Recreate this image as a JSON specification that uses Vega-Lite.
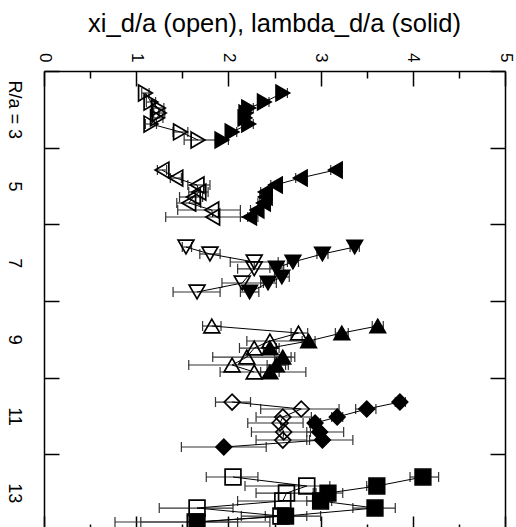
{
  "$schema": "https://vega.github.io/schema/vega-lite/v6.json",
  "width": 461,
  "height": 456,
  "autosize": "none",
  "padding": {"left": 44, "top": 71, "right": 11, "bottom": 0},
  "title": {"text": "xi_d/a (open), lambda_d/a (solid)", "font": "Liberation Sans", "fontSize": 25.5, "fontWeight": "normal", "color": "black", "anchor": "middle", "offset": 15},
  "config": {
    "view": {"stroke": null},
    "axis": {"grid": false, "domainColor": "black", "tickColor": "black", "labelColor": "black", "labelFont": "Liberation Sans", "domainWidth": 1.5, "tickWidth": 1.5, "title": null}
  },
  "data": {"values": [
    {"g":3,"t":"o","R":2.574,"x":1.10,"lo":1.06,"hi":1.14},
    {"g":3,"t":"o","R":2.809,"x":1.16,"lo":1.11,"hi":1.21},
    {"g":3,"t":"o","R":2.965,"x":1.24,"lo":1.18,"hi":1.30},
    {"g":3,"t":"o","R":3.096,"x":1.25,"lo":1.19,"hi":1.31},
    {"g":3,"t":"o","R":3.226,"x":1.23,"lo":1.17,"hi":1.29},
    {"g":3,"t":"o","R":3.383,"x":1.16,"lo":1.10,"hi":1.22},
    {"g":3,"t":"o","R":3.591,"x":1.48,"lo":1.40,"hi":1.56},
    {"g":3,"t":"o","R":3.800,"x":1.67,"lo":1.52,"hi":1.86},
    {"g":3,"t":"s","R":2.574,"x":2.59,"lo":2.54,"hi":2.64},
    {"g":3,"t":"s","R":2.809,"x":2.39,"lo":2.34,"hi":2.44},
    {"g":3,"t":"s","R":2.965,"x":2.22,"lo":2.17,"hi":2.27},
    {"g":3,"t":"s","R":3.096,"x":2.19,"lo":2.14,"hi":2.24},
    {"g":3,"t":"s","R":3.226,"x":2.18,"lo":2.13,"hi":2.23},
    {"g":3,"t":"s","R":3.383,"x":2.22,"lo":2.17,"hi":2.27},
    {"g":3,"t":"s","R":3.591,"x":2.04,"lo":1.99,"hi":2.09},
    {"g":3,"t":"s","R":3.800,"x":1.93,"lo":1.88,"hi":2.00},
    {"g":5,"t":"o","R":4.583,"x":1.28,"lo":1.23,"hi":1.33},
    {"g":5,"t":"o","R":4.792,"x":1.43,"lo":1.37,"hi":1.49},
    {"g":5,"t":"o","R":4.974,"x":1.66,"lo":1.56,"hi":1.80},
    {"g":5,"t":"o","R":5.157,"x":1.68,"lo":1.57,"hi":1.78},
    {"g":5,"t":"o","R":5.287,"x":1.62,"lo":1.47,"hi":1.72},
    {"g":5,"t":"o","R":5.444,"x":1.57,"lo":1.44,"hi":1.70},
    {"g":5,"t":"o","R":5.626,"x":1.82,"lo":1.45,"hi":2.13},
    {"g":5,"t":"o","R":5.809,"x":1.83,"lo":1.32,"hi":2.21},
    {"g":5,"t":"s","R":4.583,"x":3.16,"lo":3.11,"hi":3.21},
    {"g":5,"t":"s","R":4.792,"x":2.78,"lo":2.73,"hi":2.83},
    {"g":5,"t":"s","R":4.974,"x":2.51,"lo":2.46,"hi":2.56},
    {"g":5,"t":"s","R":5.157,"x":2.40,"lo":2.35,"hi":2.45},
    {"g":5,"t":"s","R":5.287,"x":2.40,"lo":2.34,"hi":2.46},
    {"g":5,"t":"s","R":5.444,"x":2.38,"lo":2.32,"hi":2.44},
    {"g":5,"t":"s","R":5.626,"x":2.31,"lo":2.24,"hi":2.38},
    {"g":5,"t":"s","R":5.809,"x":2.23,"lo":2.13,"hi":2.32},
    {"g":7,"t":"o","R":6.592,"x":1.54,"lo":1.50,"hi":1.60},
    {"g":7,"t":"o","R":6.774,"x":1.80,"lo":1.69,"hi":1.91},
    {"g":7,"t":"o","R":6.983,"x":2.28,"lo":2.02,"hi":2.54},
    {"g":7,"t":"o","R":7.160,"x":2.28,"lo":2.10,"hi":2.55},
    {"g":7,"t":"o","R":7.531,"x":2.15,"lo":1.93,"hi":2.38},
    {"g":7,"t":"o","R":7.766,"x":1.66,"lo":1.40,"hi":1.91},
    {"g":7,"t":"s","R":6.592,"x":3.37,"lo":3.32,"hi":3.42},
    {"g":7,"t":"s","R":6.774,"x":3.02,"lo":2.96,"hi":3.08},
    {"g":7,"t":"s","R":6.983,"x":2.70,"lo":2.64,"hi":2.76},
    {"g":7,"t":"s","R":7.140,"x":2.52,"lo":2.45,"hi":2.60},
    {"g":7,"t":"s","R":7.374,"x":2.58,"lo":2.50,"hi":2.66},
    {"g":7,"t":"s","R":7.531,"x":2.43,"lo":2.35,"hi":2.52},
    {"g":7,"t":"s","R":7.766,"x":2.23,"lo":2.13,"hi":2.33},
    {"g":9,"t":"o","R":8.653,"x":1.82,"lo":1.72,"hi":1.92},
    {"g":9,"t":"o","R":8.835,"x":2.76,"lo":2.68,"hi":2.86},
    {"g":9,"t":"o","R":9.044,"x":2.45,"lo":2.20,"hi":2.88},
    {"g":9,"t":"o","R":9.227,"x":2.28,"lo":2.12,"hi":2.55},
    {"g":9,"t":"o","R":9.462,"x":2.20,"lo":1.83,"hi":2.72},
    {"g":9,"t":"o","R":9.670,"x":2.04,"lo":1.57,"hi":2.65},
    {"g":9,"t":"o","R":9.853,"x":2.28,"lo":1.91,"hi":2.84},
    {"g":9,"t":"s","R":8.653,"x":3.62,"lo":3.56,"hi":3.68},
    {"g":9,"t":"s","R":8.835,"x":3.23,"lo":3.16,"hi":3.30},
    {"g":9,"t":"s","R":9.044,"x":2.87,"lo":2.80,"hi":2.94},
    {"g":9,"t":"s","R":9.227,"x":2.45,"lo":2.38,"hi":2.52},
    {"g":9,"t":"s","R":9.462,"x":2.59,"lo":2.50,"hi":2.68},
    {"g":9,"t":"s","R":9.670,"x":2.52,"lo":2.42,"hi":2.62},
    {"g":9,"t":"s","R":9.853,"x":2.45,"lo":2.35,"hi":2.55},
    {"g":11,"t":"o","R":10.636,"x":2.04,"lo":1.86,"hi":2.24},
    {"g":11,"t":"o","R":10.818,"x":2.79,"lo":2.35,"hi":3.20},
    {"g":11,"t":"o","R":11.027,"x":2.59,"lo":2.30,"hi":2.90},
    {"g":11,"t":"o","R":11.183,"x":2.56,"lo":2.21,"hi":2.81},
    {"g":11,"t":"o","R":11.418,"x":2.60,"lo":2.25,"hi":2.89},
    {"g":11,"t":"o","R":11.627,"x":2.59,"lo":2.30,"hi":2.85},
    {"g":11,"t":"s","R":10.636,"x":3.86,"lo":3.81,"hi":3.92},
    {"g":11,"t":"s","R":10.818,"x":3.50,"lo":3.38,"hi":3.60},
    {"g":11,"t":"s","R":11.027,"x":3.18,"lo":3.12,"hi":3.24},
    {"g":11,"t":"s","R":11.183,"x":2.94,"lo":2.88,"hi":3.00},
    {"g":11,"t":"s","R":11.418,"x":2.99,"lo":2.85,"hi":3.25},
    {"g":11,"t":"s","R":11.627,"x":3.02,"lo":2.88,"hi":3.35},
    {"g":11,"t":"s","R":11.809,"x":1.95,"lo":1.49,"hi":2.41},
    {"g":13,"t":"o","R":12.592,"x":2.05,"lo":1.76,"hi":2.32},
    {"g":13,"t":"o","R":12.827,"x":2.85,"lo":2.18,"hi":3.10},
    {"g":13,"t":"o","R":13.010,"x":2.63,"lo":2.30,"hi":2.95},
    {"g":13,"t":"o","R":13.218,"x":2.59,"lo":2.10,"hi":2.95},
    {"g":13,"t":"o","R":13.401,"x":1.66,"lo":1.25,"hi":2.05},
    {"g":13,"t":"o","R":13.610,"x":2.57,"lo":2.14,"hi":3.00},
    {"g":13,"t":"o","R":13.766,"x":1.64,"lo":0.77,"hi":2.45},
    {"g":13,"t":"s","R":12.592,"x":4.11,"lo":3.97,"hi":4.28},
    {"g":13,"t":"s","R":12.827,"x":3.61,"lo":3.50,"hi":3.68},
    {"g":13,"t":"s","R":13.010,"x":3.08,"lo":2.92,"hi":3.24},
    {"g":13,"t":"s","R":13.218,"x":3.00,"lo":2.85,"hi":3.12},
    {"g":13,"t":"s","R":13.401,"x":3.59,"lo":3.35,"hi":3.81},
    {"g":13,"t":"s","R":13.610,"x":2.62,"lo":2.40,"hi":2.85},
    {"g":13,"t":"s","R":13.766,"x":1.66,"lo":1.05,"hi":2.10}
  ]},
  "resolve": {"axis": {"x": "independent", "y": "independent"}},
  "layer": [
    {
      "mark": {"type": "rule", "color": "#333", "strokeWidth": 1.2},
      "encoding": {
        "x": {"field": "lo", "type": "quantitative", "scale": {"domain": [0, 5], "nice": false, "zero": false},
          "axis": {"orient": "top", "values": [0, 0.5, 1, 1.5, 2, 2.5, 3, 3.5, 4, 4.5, 5],
            "tickSize": {"condition": {"test": "datum.value % 1 === 0", "value": -15}, "value": -7},
            "labelExpr": "datum.value % 1 === 0 ? '' + datum.value : ''",
            "labelAngle": 90, "labelAlign": "right", "labelBaseline": "middle", "labelPadding": 24,
            "labelFlush": false, "labelFontSize": 17, "labelOverlap": false, "labelBound": false}},
        "x2": {"field": "hi"},
        "y": {"field": "R", "type": "quantitative", "scale": {"domain": [2, 13.896], "reverse": true, "nice": false, "zero": false},
          "axis": {"orient": "left", "values": [2, 3, 4, 5, 6, 7, 8, 9, 10, 11, 12, 13],
            "tickSize": {"condition": {"test": "datum.value % 2 === 0", "value": -15}, "value": 0},
            "labelExpr": "datum.value % 2 === 1 ? (datum.value === 3 ? 'R/a = 3' : '' + datum.value) : ''",
            "labelAngle": 90, "labelAlign": "center", "labelBaseline": "middle", "labelPadding": 31,
            "labelFlush": false, "labelFontSize": 18, "labelOverlap": false, "labelBound": false}}
      }
    },
    {
      "mark": {"type": "tick", "orient": "vertical", "size": 10, "thickness": 1.2, "color": "#333", "opacity": 1},
      "encoding": {
        "x": {"field": "lo", "type": "quantitative",
          "axis": {"orient": "bottom", "offset": 4, "values": [0, 0.5, 1, 1.5, 2, 2.5, 3, 3.5, 4, 4.5, 5],
            "tickSize": {"condition": {"test": "datum.value % 1 === 0", "value": -15}, "value": -7},
            "labels": false}},
        "y": {"field": "R", "type": "quantitative",
          "axis": {"orient": "right", "values": [2, 4, 6, 8, 10, 12], "tickSize": -15, "labels": false}}
      }
    },
    {
      "mark": {"type": "tick", "orient": "vertical", "size": 10, "thickness": 1.2, "color": "#333", "opacity": 1},
      "encoding": {
        "x": {"field": "hi", "type": "quantitative", "axis": null},
        "y": {"field": "R", "type": "quantitative", "axis": null}
      }
    },
    {
      "mark": {"type": "line", "color": "black", "strokeWidth": 1},
      "encoding": {
        "x": {"field": "x", "type": "quantitative", "axis": null},
        "y": {"field": "R", "type": "quantitative", "axis": null},
        "detail": [{"field": "g", "type": "nominal"}, {"field": "t", "type": "nominal"}],
        "order": {"field": "R", "type": "quantitative"}
      }
    },
    {
      "transform": [{"filter": "datum.t === 'o'"}],
      "mark": {"type": "point", "filled": false, "stroke": "black", "strokeWidth": 1.7, "opacity": 1},
      "encoding": {
        "x": {"field": "x", "type": "quantitative", "axis": null},
        "y": {"field": "R", "type": "quantitative", "axis": null},
        "shape": {"field": "g", "type": "nominal", "legend": null,
          "scale": {"domain": [3, 5, 7, 9, 11, 13], "range": ["triangle-right", "triangle-left", "triangle-down", "triangle-up", "diamond", "square"]}},
        "size": {"field": "g", "type": "ordinal", "legend": null,
          "scale": {"domain": [3, 5, 7, 9, 11, 13], "range": [250, 250, 250, 250, 320, 200]}}
      }
    },
    {
      "transform": [{"filter": "datum.t === 's'"}],
      "mark": {"type": "point", "filled": true, "color": "black", "stroke": "black", "strokeWidth": 1.5, "opacity": 1},
      "encoding": {
        "x": {"field": "x", "type": "quantitative", "axis": null},
        "y": {"field": "R", "type": "quantitative", "axis": null},
        "shape": {"field": "g", "type": "nominal", "legend": null,
          "scale": {"domain": [3, 5, 7, 9, 11, 13], "range": ["triangle-right", "triangle-left", "triangle-down", "triangle-up", "diamond", "square"]}},
        "size": {"field": "g", "type": "ordinal", "legend": null,
          "scale": {"domain": [3, 5, 7, 9, 11, 13], "range": [250, 250, 250, 250, 320, 200]}}
      }
    }
  ]
}
